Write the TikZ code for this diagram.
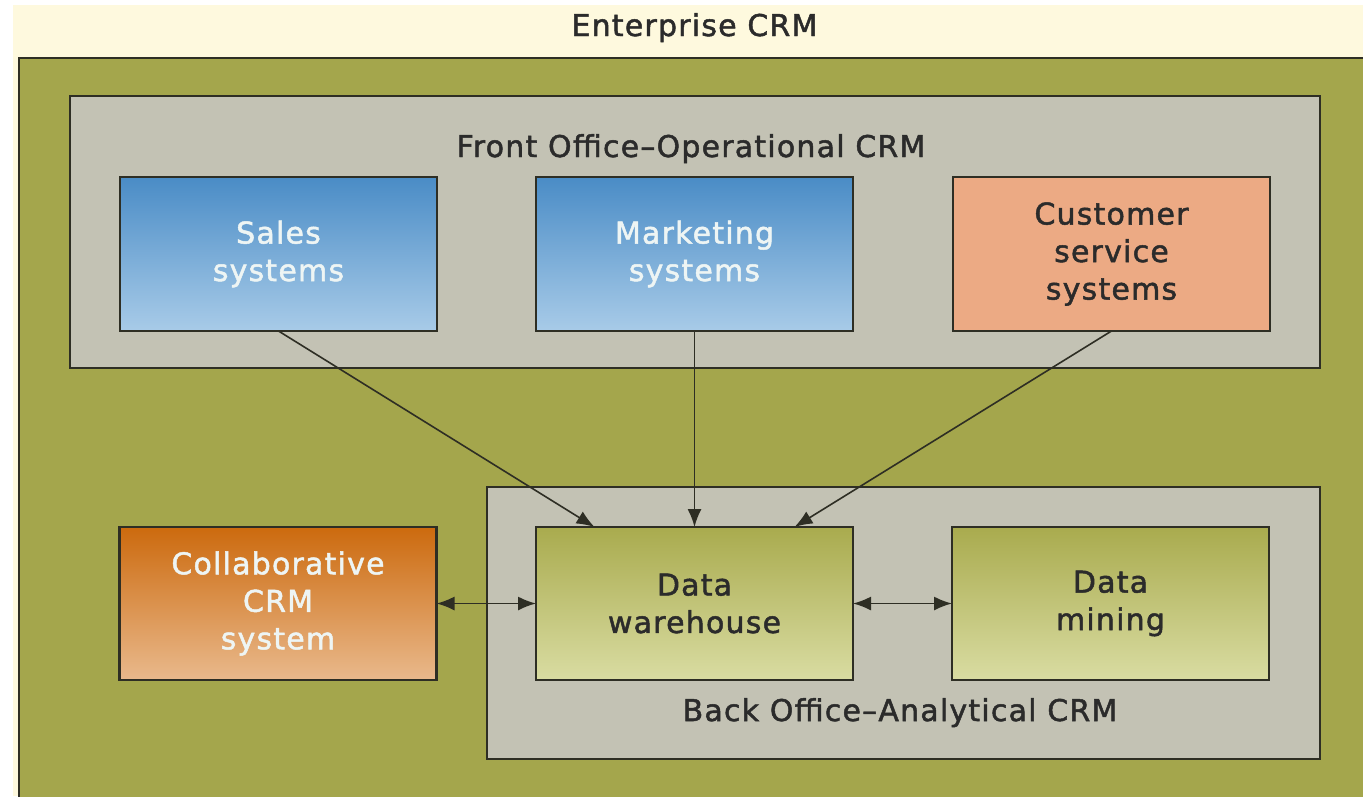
\documentclass[tikz,border=0pt]{standalone}
\usepackage{fontspec}
\setmainfont{DejaVu Sans}[LetterSpace=4, FakeBold=1.6]
\usetikzlibrary{arrows.meta}
\definecolor{cream}{HTML}{FEF9DE}
\definecolor{olivebg}{HTML}{A4A64C}
\definecolor{graybox}{HTML}{C3C2B4}
\definecolor{bd}{HTML}{2E2E24}
\definecolor{bluetop}{HTML}{4A8CC6}
\definecolor{bluebot}{HTML}{A8CBE8}
\definecolor{peach}{HTML}{ECAA84}
\definecolor{orgtop}{HTML}{CC6A0E}
\definecolor{orgbot}{HTML}{E9B98C}
\definecolor{olvtop}{HTML}{A9AB4E}
\definecolor{olvbot}{HTML}{D9DCA2}
\definecolor{darktext}{HTML}{2B2B2B}
\definecolor{lighttext}{HTML}{EEF5F4}
\tikzset{
  container/.style={draw=bd, line width=2.4pt, fill=graybox, inner sep=0pt, outer sep=0pt},
  sysbox/.style={draw=bd, line width=2.2pt, inner sep=0pt, outer sep=0pt,
    minimum width=317pt, minimum height=154pt, align=center,
    font=\fontsize{30}{37.5}\selectfont},
  bluebox/.style={sysbox, top color=bluetop, bottom color=bluebot, text=lighttext},
  peachbox/.style={sysbox, fill=peach, text=darktext},
  orangebox/.style={sysbox, top color=orgtop, bottom color=orgbot, text=lighttext},
  olivebox/.style={sysbox, top color=olvtop, bottom color=olvbot, text=darktext},
  title/.style={font=\fontsize{30}{37}\selectfont, text=darktext, anchor=base, inner sep=0pt},
  conn/.style={draw=bd, line width=1.6pt, -{Latex[length=18pt,width=14pt]}},
  biconn/.style={draw=bd, line width=1.6pt, {Latex[length=18pt,width=14pt]}-{Latex[length=18pt,width=14pt]}}
}
\begin{document}
\begin{tikzpicture}[x=1pt,y=-1pt]
\useasboundingbox (0,0) rectangle (1363,796);
\fill[white] (0,0) rectangle (1363,796);
\fill[cream] (13,5) rectangle (1363,796);
\begin{scope}
\clip (0,0) rectangle (1363,796);
\draw[line width=2.5pt, draw=bd, fill=olivebg] (19,58) rectangle (1390,820);
\end{scope}
\node[title] (ent) at (694.5,36) {Enterprise CRM};

\node[container, minimum width=1250pt, minimum height=272pt] (front) at (695,232) {};
\node[title] (fronttitle) at (691,157) {Front Office--Operational CRM};
\node[container, minimum width=833pt, minimum height=272pt] (back) at (903.5,623) {};
\node[title] (backtitle) at (900,721) {Back Office--Analytical CRM};

\node[bluebox] (sales) at (278.5,254) {Sales\\systems};
\node[bluebox] (mk) at (694.5,254) {Marketing\\systems};
\node[peachbox] (cs) at (1111.5,254) {Customer\\service\\systems};

\node[orangebox, minimum height=153pt] (collab) at (278,603.5) {Collaborative\\CRM\\system};
\node[olivebox, minimum height=153pt] (dw) at (694.5,603.5) {Data\\warehouse};
\node[olivebox, minimum height=153pt] (dm) at (1110.5,603.5) {Data\\mining};

\draw[conn] (sales.south) -- ([xshift=-100pt]dw.north);
\draw[conn] (mk.south) -- (dw.north);
\draw[conn] (cs.south) -- ([xshift=100pt]dw.north);
\draw[biconn] (collab.east) -- (dw.west);
\draw[biconn] (dw.east) -- (dm.west);
\end{tikzpicture}
\end{document}
